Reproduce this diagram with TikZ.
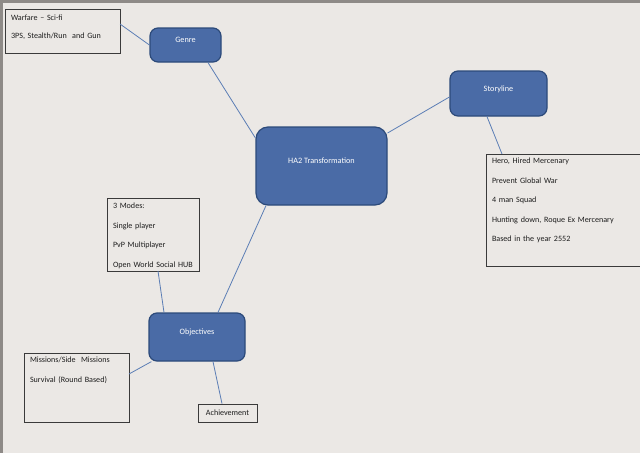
\documentclass[tikz,border=0pt]{standalone}
\usepackage{fontspec}
\setmainfont{Carlito}
\definecolor{bgc}{HTML}{EBE8E5}
\definecolor{framec}{HTML}{8E8A87}
\definecolor{bluefill}{HTML}{4A6BA6}
\definecolor{blueedge}{HTML}{2C4A7A}
\definecolor{linkc}{HTML}{5B7DB5}
\definecolor{boxedge}{HTML}{3A3A3A}
\definecolor{txt}{HTML}{1E1E1E}
\tikzset{
  topic/.style={draw=blueedge, line width=1.2pt, fill=bluefill, rounded corners=8pt,
    text=white, font=\fontsize{8.2}{9}\selectfont, inner sep=0pt,
    text height=0pt, text depth=5pt},
  notebox/.style={draw=boxedge, line width=0.8pt, fill=bgc, anchor=north west,
    align=left, text=txt, inner xsep=6pt, inner ysep=0pt, outer sep=0pt,
    font=\fontsize{8.1}{19.5}\selectfont},
  link/.style={draw=linkc, line width=0.8pt}
}
\begin{document}
\begin{tikzpicture}[x=1pt,y=-1pt]
\useasboundingbox (0,0) rectangle (640,453);
\clip (0,0) rectangle (640,453);
\fill[framec] (0,0) rectangle (640,453);
\fill[bgc] (3,3) rectangle (640,453);

% topic nodes
\node[topic, minimum width=71pt, minimum height=34pt] (genre) at (185.5,45) {Genre};
\node[topic, rounded corners=12pt, minimum width=131pt, minimum height=78pt] (ha2) at (321.5,166) {HA2 Transformation};
\node[topic, minimum width=97pt, minimum height=45pt] (story) at (498.5,93.5) {Storyline};
\node[topic, minimum width=96pt, minimum height=48pt] (obj) at (197,337) {Objectives};

% note boxes
\node[notebox, text width=103pt, text height=11.5pt, text depth=32.5pt,
  font=\fontsize{8.1}{18}\selectfont] (warfare) at (5,9)
  {Warfare -- Sci-fi\\3PS, Stealth/Run\ \ and Gun};
\node[notebox, text width=143pt, text height=9.5pt, text depth=102.5pt] (storybox) at (486,154)
  {Hero, Hired Mercenary\\Prevent Global\ War\\4 man Squad\\Hunting down,\ Roque Ex Mercenary\\Based in the year 2552};
\node[notebox, text width=80pt, text height=10.5pt, text depth=62.5pt] (modes) at (107,198)
  {3 Modes:\\Single player\\PvP Multiplayer\\Open World Social HUB};
\node[notebox, text width=93pt, text height=9.5pt, text depth=59.5pt] (missions) at (24,353)
  {Missions/Side\ \ Missions\\Survival (Round\ Based)};
\node[draw=boxedge, line width=0.8pt, fill=bgc, text=txt, inner sep=0pt,
  minimum width=59pt, minimum height=18pt, font=\fontsize{8.1}{9}\selectfont] (ach) at (227.5,413) {Achievement};

% connectors
\draw[link] ([yshift=7pt]warfare.east) -- (genre.west);
\draw[link] ([xshift=22.5pt]genre.south) -- ([yshift=28pt]ha2.west);
\draw[link] ([yshift=33pt]ha2.east) -- ([yshift=-3.5pt]story.west);
\draw[link] ([xshift=-11.5pt]story.south) -- ([xshift=16pt]storybox.north west);
\draw[link] ([xshift=-55.5pt]ha2.south) -- ([xshift=21pt]obj.north);
\draw[link] ([xshift=5pt]modes.south) -- ([xshift=-33pt]obj.north);
\draw[link] ([xshift=3pt]obj.south west) -- ([yshift=13.5pt]missions.east);
\draw[link] ([xshift=16pt]obj.south) -- ([xshift=-5.5pt]ach.north);
\end{tikzpicture}
\end{document}
